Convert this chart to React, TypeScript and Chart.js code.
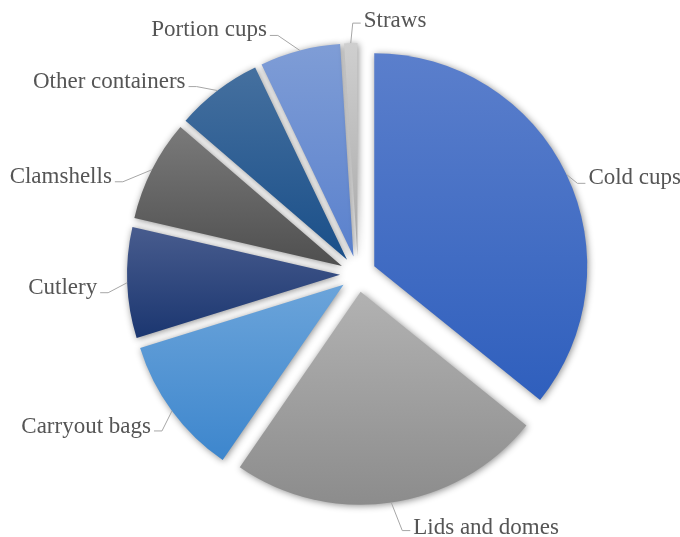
import { useEffect, useRef } from "react";
import { Chart, registerables } from "chart.js";

Chart.register(...registerables);

const categories = [
  "Cold cups",
  "Lids and domes",
  "Carryout bags",
  "Cutlery",
  "Clamshells",
  "Other containers",
  "Portion cups",
  "Straws",
];
const shares = [35.8, 23.8, 10.6, 8.4, 7.7, 6.6, 6.1, 1.0];

const topColors = ["#5b7fcc", "#b2b2b2", "#6ba4da", "#485c8e", "#7a7a7a", "#45709f", "#7f9dd6", "#cfcfcf"];
const bottomColors = ["#2f5fbd", "#8c8c8c", "#3d86cd", "#1b3670", "#4f4f4f", "#1a4f89", "#5a81cd", "#a9a9a9"];

const labelSides = ["right", "right", "left", "left", "left", "left", "left", "right"];
const labelElbows: number[][] = [
  [11, 9],
  [11, 28],
  [-10, 20],
  [-19, 10],
  [-29, 12],
  [-21, -4],
  [-22, -15],
  [2, -20],
];
const labelBaselineDy = [1, 3, 2, 1, 1, 1, 1, 4];

const EXPLODE = 18;
const RADIUS = 213;
const FONT = '23px "Liberation Serif", serif';

function sliceGradient(ctx: any) {
  const chart = ctx.chart;
  const ca = chart.chartArea;
  const i = ctx.dataIndex;
  if (!ca || i === undefined) return topColors[i ?? 0];
  const cx = (ca.left + ca.right) / 2;
  const cy = (ca.top + ca.bottom) / 2;
  const total = shares.reduce((a, b) => a + b, 0);
  let cum = 0;
  for (let k = 0; k < i; k++) cum += shares[k];
  const s = -Math.PI / 2 + (2 * Math.PI * cum) / total;
  const e = s + (2 * Math.PI * shares[i]) / total;
  const ys = [cy, cy + RADIUS * Math.sin(s), cy + RADIUS * Math.sin(e)];
  const inRange = (a: number) => {
    for (let t = a - 4 * Math.PI; t <= a + 4 * Math.PI; t += 2 * Math.PI) {
      if (t >= s && t <= e) return true;
    }
    return false;
  };
  if (inRange(Math.PI / 2)) ys.push(cy + RADIUS);
  if (inRange(-Math.PI / 2)) ys.push(cy - RADIUS);
  const minY = Math.min(...ys);
  const maxY = Math.max(...ys);
  const g = chart.ctx.createLinearGradient(0, minY, 0, maxY);
  g.addColorStop(0, topColors[i]);
  g.addColorStop(1, bottomColors[i]);
  return g;
}

const explodePlugin = {
  id: "explodeDraw",
  beforeDatasetDraw(chart: any) {
    const ctx = chart.ctx;
    const meta = chart.getDatasetMeta(0);
    meta.data.forEach((arc: any) => {
      const mid = (arc.startAngle + arc.endAngle) / 2;
      ctx.save();
      ctx.translate(Math.cos(mid) * EXPLODE, Math.sin(mid) * EXPLODE);
      ctx.shadowColor = "rgba(0,0,0,0.45)";
      ctx.shadowBlur = 7;
      ctx.shadowOffsetX = 1;
      ctx.shadowOffsetY = 1;
      arc.draw(ctx);
      ctx.restore();
    });
    return false;
  },
  afterDatasetsDraw(chart: any) {
    const ctx = chart.ctx;
    const meta = chart.getDatasetMeta(0);
    ctx.save();
    ctx.font = FONT;
    ctx.fillStyle = "#555555";
    ctx.strokeStyle = "#a6a6a6";
    ctx.lineWidth = 1;
    meta.data.forEach((arc: any, i: number) => {
      const mid = (arc.startAngle + arc.endAngle) / 2;
      const r = arc.outerRadius + EXPLODE;
      const px = arc.x + Math.cos(mid) * r;
      const py = arc.y + Math.sin(mid) * r;
      const ex = px + labelElbows[i][0];
      const ey = py + labelElbows[i][1];
      const right = labelSides[i] === "right";
      const hx = right ? ex + 8 : ex - 8;
      ctx.beginPath();
      ctx.moveTo(px, py);
      ctx.lineTo(ex, ey);
      ctx.lineTo(hx, ey);
      ctx.stroke();
      ctx.textAlign = right ? "left" : "right";
      ctx.textBaseline = "alphabetic";
      ctx.fillText(categories[i], right ? hx + 3 : hx - 3, ey + labelBaselineDy[i]);
    });
    ctx.restore();
  },
};

export default function App() {
  const ref = useRef<HTMLCanvasElement>(null);
  useEffect(() => {
    document.body.style.margin = "0";
    const chart = new Chart(ref.current as HTMLCanvasElement, {
      type: "pie",
      data: {
        labels: categories,
        datasets: [
          {
            data: shares,
            backgroundColor: sliceGradient as any,
            borderWidth: 0,
          },
        ],
      },
      options: {
        responsive: false,
        animation: false,
        radius: RADIUS,
        layout: { padding: { left: 36, right: 0, top: 11, bottom: 0 } },
        plugins: {
          legend: { display: false },
          tooltip: { enabled: false },
        },
      } as any,
      plugins: [explodePlugin],
    });
    return () => chart.destroy();
  }, []);
  return (
    <div style={{ width: 680, height: 537 }}>
      <canvas ref={ref} width={680} height={537} style={{ display: "block" }} />
    </div>
  );
}
